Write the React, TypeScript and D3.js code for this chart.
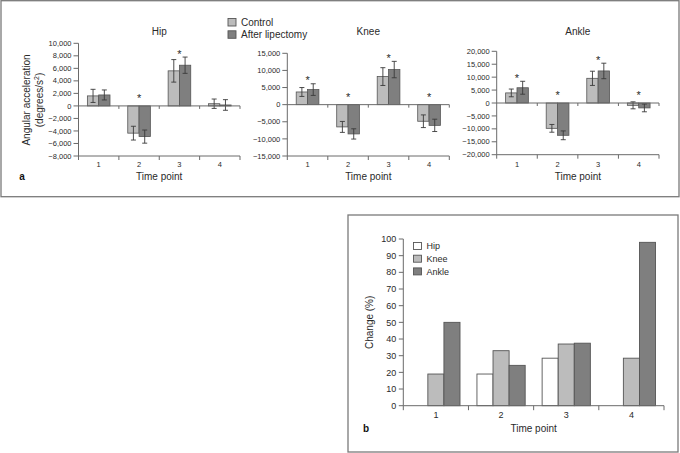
import React from "react";
import * as d3 from "d3";

const TIME_POINTS = ["1", "2", "3", "4"];
const SERIES_A = ["Control", "After lipectomy"];

const HIP_CONTROL = [1600, -4350, 5600, 350];
const HIP_CONTROL_ERR = [1050, 1100, 1800, 750];
const HIP_LIPO = [1750, -4900, 6500, 150];
const HIP_LIPO_ERR = [800, 1050, 1300, 850];
const HIP_STARS = [false, true, true, false];
const HIP_TICKS = [-8000, -6000, -4000, -2000, 0, 2000, 4000, 6000, 8000, 10000];

const KNEE_CONTROL = [3700, -6500, 8200, -4850];
const KNEE_CONTROL_ERR = [1300, 1600, 2600, 1850];
const KNEE_LIPO = [4400, -8550, 10250, -6050];
const KNEE_LIPO_ERR = [1700, 1500, 2400, 1800];
const KNEE_STARS = [true, true, true, true];
const KNEE_TICKS = [-15000, -10000, -5000, 0, 5000, 10000, 15000];

const ANKLE_CONTROL = [3900, -9800, 9550, -900];
const ANKLE_CONTROL_ERR = [1500, 1500, 2750, 1350];
const ANKLE_LIPO = [5900, -12500, 12400, -1900];
const ANKLE_LIPO_ERR = [2500, 1700, 3000, 1500];
const ANKLE_STARS = [true, true, true, true];
const ANKLE_TICKS = [-20000, -15000, -10000, -5000, 0, 5000, 10000, 15000, 20000];

const B_SERIES = ["Hip", "Knee", "Ankle"];
const B_HIP: (number | null)[] = [null, 19, 28.5, null];
const B_KNEE: (number | null)[] = [19, 33, 37, 28.5];
const B_ANKLE: (number | null)[] = [50, 24.2, 37.5, 98];
const B_TICKS = [0, 10, 20, 30, 40, 50, 60, 70, 80, 90, 100];

const FONT = "'Liberation Sans', Arial, sans-serif";
const TEXT = "#2a2a2a";
const AXIS = "#6a6a6a";
const LIGHT = "#bcbcbc";
const DARK = "#7f7f7f";
const BAR_STROKE = "#555";
const fmt = d3.format(",");

type PanelProps = {
  title: string;
  control: number[];
  controlErr: number[];
  lipo: number[];
  lipoErr: number[];
  stars: boolean[];
  ticks: number[];
  x0: number;
  x1: number;
  yTop: number;
  yBottom: number;
};

function PanelA(p: PanelProps) {
  const y = d3
    .scaleLinear()
    .domain([p.ticks[0], p.ticks[p.ticks.length - 1]])
    .range([p.yBottom, p.yTop]);
  const x = d3.scaleBand().domain(TIME_POINTS).range([p.x0, p.x1]).padding(0);
  const bw = x.bandwidth();
  const inner = d3
    .scaleBand()
    .domain(SERIES_A)
    .range([bw / 2 - bw * 0.28, bw / 2 + bw * 0.28])
    .padding(0);
  const boundaries = d3.range(TIME_POINTS.length + 1).map((i) => p.x0 + i * bw);
  const y0 = y(0);
  const series = [
    { name: SERIES_A[0], vals: p.control, errs: p.controlErr, fill: LIGHT },
    { name: SERIES_A[1], vals: p.lipo, errs: p.lipoErr, fill: DARK },
  ];
  return (
    <g>
      <text
        x={(p.x0 + p.x1) / 2}
        y={35}
        textAnchor="middle"
        fontSize={10}
        fill={TEXT}
        fontFamily={FONT}
      >
        {p.title}
      </text>
      {/* y axis */}
      <line x1={p.x0} x2={p.x0} y1={p.yTop} y2={p.yBottom} stroke={AXIS} />
      {p.ticks.map((t) => (
        <g key={t}>
          <line x1={p.x0 - 5} x2={p.x0} y1={y(t)} y2={y(t)} stroke={AXIS} />
          <text
            x={p.x0 - 7}
            y={y(t)}
            dy="0.35em"
            textAnchor="end"
            fontSize={7.5}
            fill={TEXT}
            fontFamily={FONT}
          >
            {fmt(t)}
          </text>
        </g>
      ))}
      {/* bars */}
      {series.map((s) =>
        TIME_POINTS.map((tp, i) => {
          const v = s.vals[i];
          const bx = (x(tp) as number) + (inner(s.name) as number);
          const top = Math.min(y(v), y0);
          return (
            <rect
              key={s.name + tp}
              x={bx}
              y={top}
              width={inner.bandwidth()}
              height={Math.abs(y(v) - y0)}
              fill={s.fill}
              stroke={BAR_STROKE}
              strokeWidth={0.8}
            />
          );
        })
      )}
      {/* error bars */}
      {series.map((s) =>
        TIME_POINTS.map((tp, i) => {
          const v = s.vals[i];
          const e = s.errs[i];
          const cx = (x(tp) as number) + (inner(s.name) as number) + inner.bandwidth() / 2;
          return (
            <g key={"e" + s.name + tp} stroke="#3a3a3a" strokeWidth={0.9}>
              <line x1={cx} x2={cx} y1={y(v + e)} y2={y(v - e)} />
              <line x1={cx - 2.5} x2={cx + 2.5} y1={y(v + e)} y2={y(v + e)} />
              <line x1={cx - 2.5} x2={cx + 2.5} y1={y(v - e)} y2={y(v - e)} />
            </g>
          );
        })
      )}
      {/* zero line */}
      <line x1={p.x0} x2={p.x1} y1={y0} y2={y0} stroke={AXIS} />
      {boundaries.slice(1).map((b, i) => (
        <line key={"zt" + i} x1={b} x2={b} y1={y0} y2={y0 + 3} stroke={AXIS} />
      ))}
      {/* bottom axis */}
      <line x1={p.x0} x2={p.x1} y1={p.yBottom} y2={p.yBottom} stroke={AXIS} />
      {boundaries.map((b, i) => (
        <line key={"bt" + i} x1={b} x2={b} y1={p.yBottom} y2={p.yBottom + 4} stroke={AXIS} />
      ))}
      {TIME_POINTS.map((tp) => (
        <text
          key={"xl" + tp}
          x={(x(tp) as number) + bw / 2}
          y={166.5}
          textAnchor="middle"
          fontSize={7.5}
          fill={TEXT}
          fontFamily={FONT}
        >
          {tp}
        </text>
      ))}
      <text
        x={(p.x0 + p.x1) / 2}
        y={180}
        textAnchor="middle"
        fontSize={10}
        fill={TEXT}
        fontFamily={FONT}
      >
        Time point
      </text>
      {/* stars */}
      {TIME_POINTS.map((tp, i) => {
        if (!p.stars[i]) return null;
        const positive = p.control[i] + p.lipo[i] > 0;
        const errTop = Math.max(p.control[i] + p.controlErr[i], p.lipo[i] + p.lipoErr[i]);
        const by = positive ? y(errTop) + 0.5 : y0 - 4;
        return (
          <text
            key={"s" + tp}
            x={(x(tp) as number) + bw / 2}
            y={by}
            textAnchor="middle"
            fontSize={11}
            fill={TEXT}
            fontFamily={FONT}
          >
            *
          </text>
        );
      })}
    </g>
  );
}

function PanelB() {
  const x0 = 403.3;
  const x1 = 664;
  const yTop = 239;
  const yBottom = 405.7;
  const y = d3.scaleLinear().domain([0, 100]).range([yBottom, yTop]);
  const x = d3.scaleBand().domain(TIME_POINTS).range([x0, x1]).padding(0);
  const bw = x.bandwidth();
  const inner = d3
    .scaleBand()
    .domain(B_SERIES)
    .range([bw / 2 - bw * 0.37, bw / 2 + bw * 0.37])
    .padding(0);
  const series = [
    { name: "Hip", vals: B_HIP, fill: "#ffffff" },
    { name: "Knee", vals: B_KNEE, fill: LIGHT },
    { name: "Ankle", vals: B_ANKLE, fill: DARK },
  ];
  const boundaries = d3.range(TIME_POINTS.length + 1).map((i) => x0 + i * bw);
  return (
    <g>
      <rect x={348} y={215} width={330} height={237} fill="none" stroke="#7a7a7a" strokeWidth={1.3} />
      {series.map((s) =>
        TIME_POINTS.map((tp, i) => {
          const v = s.vals[i];
          if (v === null) return null;
          return (
            <rect
              key={s.name + tp}
              x={(x(tp) as number) + (inner(s.name) as number)}
              y={y(v)}
              width={inner.bandwidth()}
              height={yBottom - y(v)}
              fill={s.fill}
              stroke={BAR_STROKE}
              strokeWidth={0.9}
            />
          );
        })
      )}
      <line x1={x0} x2={x0} y1={yTop} y2={yBottom} stroke={AXIS} />
      {B_TICKS.map((t) => (
        <g key={t}>
          <line x1={x0 - 4.5} x2={x0} y1={y(t)} y2={y(t)} stroke={AXIS} />
          <text
            x={x0 - 7}
            y={y(t)}
            dy="0.35em"
            textAnchor="end"
            fontSize={9}
            fill={TEXT}
            fontFamily={FONT}
          >
            {t}
          </text>
        </g>
      ))}
      <line x1={x0} x2={x1} y1={yBottom} y2={yBottom} stroke={AXIS} />
      {boundaries.map((b, i) => (
        <line key={"bt" + i} x1={b} x2={b} y1={yBottom} y2={yBottom + 4.5} stroke={AXIS} />
      ))}
      {TIME_POINTS.map((tp) => (
        <text
          key={"xl" + tp}
          x={(x(tp) as number) + bw / 2}
          y={417.5}
          textAnchor="middle"
          fontSize={9}
          fill={TEXT}
          fontFamily={FONT}
        >
          {tp}
        </text>
      ))}
      <text x={(x0 + x1) / 2} y={432} textAnchor="middle" fontSize={10} fill={TEXT} fontFamily={FONT}>
        Time point
      </text>
      <text x={366} y={432} textAnchor="middle" fontSize={10} fontWeight="bold" fill="#111" fontFamily={FONT}>
        b
      </text>
      <text
        transform={`translate(372.5,${(yTop + yBottom) / 2}) rotate(-90)`}
        textAnchor="middle"
        fontSize={10}
        fill={TEXT}
        fontFamily={FONT}
      >
        Change (%)
      </text>
      {series.map((s, i) => (
        <g key={"lg" + s.name}>
          <rect
            x={413.5}
            y={242.5 + i * 12.7}
            width={8}
            height={7}
            fill={s.fill}
            stroke={BAR_STROKE}
            strokeWidth={0.9}
          />
          <text x={426.5} y={249.3 + i * 12.7} fontSize={9} fill={TEXT} fontFamily={FONT}>
            {s.name}
          </text>
        </g>
      ))}
    </g>
  );
}

export default function App() {
  const panels: PanelProps[] = [
    {
      title: "Hip",
      control: HIP_CONTROL,
      controlErr: HIP_CONTROL_ERR,
      lipo: HIP_LIPO,
      lipoErr: HIP_LIPO_ERR,
      stars: HIP_STARS,
      ticks: HIP_TICKS,
      x0: 78.5,
      x1: 240,
      yTop: 43.3,
      yBottom: 156,
    },
    {
      title: "Knee",
      control: KNEE_CONTROL,
      controlErr: KNEE_CONTROL_ERR,
      lipo: KNEE_LIPO,
      lipoErr: KNEE_LIPO_ERR,
      stars: KNEE_STARS,
      ticks: KNEE_TICKS,
      x0: 287.3,
      x1: 449.3,
      yTop: 53.3,
      yBottom: 156,
    },
    {
      title: "Ankle",
      control: ANKLE_CONTROL,
      controlErr: ANKLE_CONTROL_ERR,
      lipo: ANKLE_LIPO,
      lipoErr: ANKLE_LIPO_ERR,
      stars: ANKLE_STARS,
      ticks: ANKLE_TICKS,
      x0: 496.7,
      x1: 659,
      yTop: 51.3,
      yBottom: 154.7,
    },
  ];
  return (
    <svg
      width={680}
      height={453}
      style={{ position: "absolute", left: 0, top: 0, background: "#fff" }}
    >
      <rect x={0} y={0} width={680} height={453} fill="#fff" />
      <rect x={1} y={0.7} width={678} height={196} fill="none" stroke="#7a7a7a" strokeWidth={1.3} />
      {panels.map((p) => (
        <PanelA key={p.title} {...p} />
      ))}
      {/* Y axis label for panel a */}
      <text
        transform="translate(30,100) rotate(-90)"
        textAnchor="middle"
        fontSize={10}
        fill={TEXT}
        fontFamily={FONT}
      >
        <tspan x={0} dy={0}>Angular acceleration</tspan>
        <tspan x={0} dy={12.5}>
          (degrees/s<tspan dy={-3.5} fontSize={7}>2</tspan>
          <tspan dy={3.5}>)</tspan>
        </tspan>
      </text>
      <text x={22} y={180} textAnchor="middle" fontSize={10} fontWeight="bold" fill="#111" fontFamily={FONT}>
        a
      </text>
      {/* legend for panel a */}
      {SERIES_A.map((s, i) => (
        <g key={"la" + s}>
          <rect
            x={228}
            y={18.5 + i * 12.3}
            width={8}
            height={7.5}
            fill={i === 0 ? LIGHT : DARK}
            stroke={BAR_STROKE}
            strokeWidth={0.9}
          />
          <text x={241} y={25.8 + i * 12.3} fontSize={10} fill={TEXT} fontFamily={FONT}>
            {s}
          </text>
        </g>
      ))}
      <PanelB />
    </svg>
  );
}
